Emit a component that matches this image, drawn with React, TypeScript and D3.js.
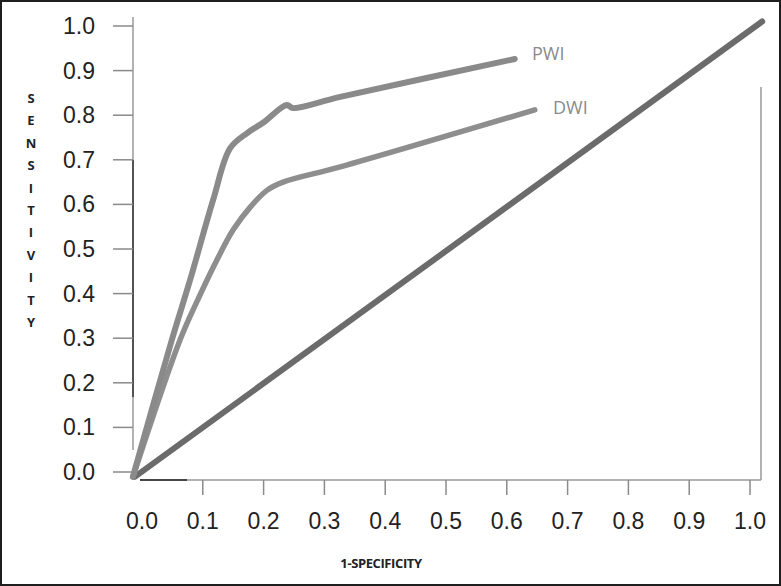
import React from 'react';
import * as d3 from 'd3';

// ROC curves (1-specificity, sensitivity)
const pwiFpr = [-0.015, 0.049, 0.079, 0.117, 0.145, 0.173, 0.199, 0.238, 0.248, 0.326, 0.613];
const pwiTpr = [-0.011, 0.296, 0.43, 0.61, 0.726, 0.76, 0.783, 0.823, 0.816, 0.841, 0.926];
const dwiFpr = [-0.015, 0.0625, 0.093, 0.123, 0.15, 0.178, 0.206, 0.232, 0.326, 0.646];
const dwiTpr = [-0.011, 0.296, 0.39, 0.475, 0.543, 0.594, 0.632, 0.65, 0.684, 0.812];
const refFpr = [-0.012, 1.02];
const refTpr = [-0.011, 1.01];

const tickValues = [0, 0.1, 0.2, 0.3, 0.4, 0.5, 0.6, 0.7, 0.8, 0.9, 1.0];
const yLabelLetters = ['S', 'E', 'N', 'S', 'I', 'T', 'I', 'V', 'I', 'T', 'Y'];

const W = 781;
const H = 586;

const x = d3.scaleLinear().domain([0, 1]).range([142, 750]);
const y = d3.scaleLinear().domain([0, 1]).range([472, 26]);

const toPts = (xs: number[], ys: number[]) => xs.map((v, i) => [v, ys[i]] as [number, number]);

const line = d3
  .line<[number, number]>()
  .x((d) => x(d[0]))
  .y((d) => y(d[1]))
  .curve(d3.curveCatmullRom.alpha(0.5));

const App = () => {
  const pwi = toPts(pwiFpr, pwiTpr);
  const dwi = toPts(dwiFpr, dwiTpr);
  const ref = toPts(refFpr, refTpr);
  const axisY = 480;
  const axisX = 133;

  return (
    <svg
      width={W}
      height={H}
      style={{ position: 'absolute', left: 0, top: 0, background: '#fff' }}
      fontFamily="'Liberation Sans', Arial, sans-serif"
    >
      <rect x={1} y={1} width={W - 2} height={H - 2} fill="#fff" stroke="#1e1e1e" strokeWidth={2} />

      {/* y axis */}
      <line x1={axisX} x2={axisX} y1={17} y2={450} stroke="#999" strokeWidth={1.5} />
      <line x1={axisX} x2={axisX} y1={160} y2={397} stroke="#333" strokeWidth={1.5} />
      {tickValues.map((t) => (
        <g key={'y' + t}>
          <line x1={113} x2={axisX} y1={y(t)} y2={y(t)} stroke="#8a8a8a" strokeWidth={1.5} />
          <text x={95} y={y(t)} textAnchor="end" dominantBaseline="central" fontSize={23} fill="#222">
            {d3.format('.1f')(t)}
          </text>
        </g>
      ))}

      {/* x axis */}
      <line x1={140} x2={761} y1={axisY} y2={axisY} stroke="#999" strokeWidth={1.5} />
      <line x1={140} x2={187} y1={axisY} y2={axisY} stroke="#222" strokeWidth={1.5} />
      <line x1={761} x2={761} y1={87} y2={axisY} stroke="#999" strokeWidth={1.5} />
      {tickValues.map((t) => (
        <g key={'x' + t}>
          {t > 0 && <line x1={x(t)} x2={x(t)} y1={axisY} y2={495} stroke="#8a8a8a" strokeWidth={1.5} />}
          <text x={x(t)} y={521} textAnchor="middle" dominantBaseline="central" fontSize={23} fill="#222">
            {d3.format('.1f')(t)}
          </text>
        </g>
      ))}

      {/* curves */}
      <path d={line(ref) ?? ''} fill="none" stroke="#6b6b6b" strokeWidth={6} strokeLinecap="round" />
      <path d={line(dwi) ?? ''} fill="none" stroke="#8e8e8e" strokeWidth={5.5} strokeLinecap="round" strokeLinejoin="round" />
      <path d={line(pwi) ?? ''} fill="none" stroke="#8a8a8a" strokeWidth={6} strokeLinecap="round" strokeLinejoin="round" />

      <text x={532} y={53} dominantBaseline="central" fontSize={18} fill="#8a8a8a" fontFamily="'Open Sans', sans-serif">
        PWI
      </text>
      <text x={553} y={107} dominantBaseline="central" fontSize={18} fill="#8a8a8a" fontFamily="'Open Sans', sans-serif">
        DWI
      </text>

      {/* axis titles */}
      {yLabelLetters.map((c, i) => (
        <text
          key={'l' + i}
          x={31}
          y={98 + i * 22.4}
          textAnchor="middle"
          dominantBaseline="central"
          fontSize={13}
          fontWeight="bold"
          fill="#222"
          fontFamily="'Open Sans', sans-serif"
        >
          {c}
        </text>
      ))}
      <text
        x={381}
        y={563}
        textAnchor="middle"
        dominantBaseline="central"
        fontSize={13}
        fontWeight="bold"
        fill="#222"
        fontFamily="'Open Sans', sans-serif"
        letterSpacing={-0.4}
      >
        1-SPECIFICITY
      </text>
    </svg>
  );
};

export default App;
